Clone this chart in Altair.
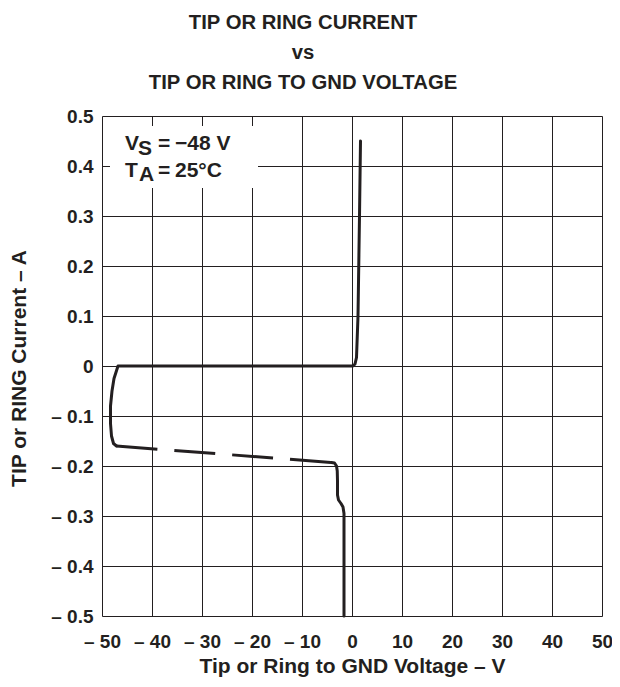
import altair as alt
import pandas as pd

# Curve (voltage in V, current in A)
solid_top_v = [1.7, 1.5, 1.2, 0.9, 0.6, 0.2, -0.8, -10, -25, -40, -46.8, -47.6, -48.0, -48.3, -48.3, -48.1, -47.7, -47.1]
solid_top_i = [0.45, 0.30, 0.10, 0.017, 0.004, 0.0, 0.0, 0.0, 0.0, 0.0, 0.0, -0.025, -0.05, -0.08, -0.115, -0.14, -0.155, -0.160]
dash_v = [-47.1, -4.1]
dash_i = [-0.160, -0.193]
solid_bot_v = [-4.1, -3.5, -3.1, -2.95, -2.9, -2.9, -2.7, -2.2, -1.8, -1.6, -1.6]
solid_bot_i = [-0.193, -0.194, -0.200, -0.21, -0.23, -0.258, -0.268, -0.275, -0.282, -0.295, -0.5]

x_ticks = [-50, -40, -30, -20, -10, 0, 10, 20, 30, 40, 50]
y_ticks = [-0.5, -0.4, -0.3, -0.2, -0.1, 0, 0.1, 0.2, 0.3, 0.4, 0.5]

title_lines = ["TIP OR RING CURRENT", "vs", "TIP OR RING TO GND VOLTAGE"]
x_title = "Tip or Ring to GND Voltage – V"
y_title = "TIP or RING Current – A"

FONT = "Liberation Sans"
INK = "#231f20"

rows = []
k = 0
for v, i in zip(solid_top_v, solid_top_i):
    rows.append({"V": v, "I": i, "seg": "a", "o": k}); k += 1
for v, i in zip(dash_v, dash_i):
    rows.append({"V": v, "I": i, "seg": "d", "o": k}); k += 1
for v, i in zip(solid_bot_v, solid_bot_i):
    rows.append({"V": v, "I": i, "seg": "b", "o": k}); k += 1
df = pd.DataFrame(rows)

xs = alt.Scale(domain=[-50, 50], nice=False, zero=False)
ys = alt.Scale(domain=[-0.5, 0.5], nice=False, zero=False)

x_enc = alt.X("V:Q", scale=xs, axis=alt.Axis(
    values=x_ticks, title=x_title, grid=True, gridColor=INK, gridWidth=1, gridOpacity=1,
    domain=False, ticks=False, tickSize=0, labelFont=FONT, labelFontSize=19,
    labelFontWeight="bold", labelColor=INK, labelPadding=16, labelFlush=False,
    labelExpr="datum.value < 0 ? '– ' + format(-datum.value, 'd') : format(datum.value, 'd')",
    titleFont=FONT, titleFontSize=21, titleFontWeight="bold", titleColor=INK,
    titleY=56, titleBaseline="alphabetic"))
y_enc = alt.Y("I:Q", scale=ys, axis=alt.Axis(
    values=y_ticks, title=y_title, grid=True, gridColor=INK, gridWidth=1, gridOpacity=1,
    domain=False, ticks=False, tickSize=0, labelFont=FONT, labelFontSize=19,
    labelFontWeight="bold", labelColor=INK, labelPadding=9, labelFlush=False,
    labelExpr="datum.value == 0 ? '0' : (datum.value < 0 ? '– ' + format(-datum.value, '.1f') : format(datum.value, '.1f'))",
    titleFont=FONT, titleFontSize=21, titleFontWeight="bold", titleColor=INK,
    titleX=-83, titleY=252, titleAngle=270, titleBaseline="middle", titleAlign="center"))

base = alt.Chart(df)

solid_a = base.transform_filter("datum.seg == 'a'").mark_line(
    color=INK, strokeWidth=3, strokeCap="round", strokeJoin="round").encode(x=x_enc, y=y_enc, order="o:Q")
solid_b = base.transform_filter("datum.seg == 'b'").mark_line(
    color=INK, strokeWidth=3, strokeCap="round", strokeJoin="round").encode(x="V:Q", y="I:Q", order="o:Q")
dashed = base.transform_filter("datum.seg == 'd'").mark_line(
    color=INK, strokeWidth=3, strokeDash=[41, 17]).encode(x="V:Q", y="I:Q", order="o:Q")

box = alt.Chart(pd.DataFrame({"a": [0]})).mark_rect(color="white").encode(
    x=alt.value(8), x2=alt.value(156), y=alt.value(10), y2=alt.value(72))

def txt(s, x, y):
    return alt.Chart(pd.DataFrame({"t": [s]})).mark_text(
        font=FONT, fontSize=21, fontWeight="bold", color=INK, align="left", baseline="alphabetic"
    ).encode(text="t:N", x=alt.value(x), y=alt.value(y))

notes = [txt("V", 23, 34), txt("S", 36, 39), txt("=", 56, 34), txt("−48 V", 73, 34),
         txt("T", 23, 61), txt("A", 37, 65), txt("=", 56, 61), txt("25°C", 73, 61)]

chart = alt.layer(solid_a, box, dashed, solid_b, *notes).properties(
    width=500, height=500,
    title=alt.Title(title_lines, font=FONT, fontSize=20.3, fontWeight="bold", color=INK,
                    lineHeight=30, anchor="middle", dx=-49, offset=13.5),
    autosize=alt.AutoSizeParams(type="none"),
    padding={"left": 94, "top": 108, "right": 10, "bottom": 62},
).configure_view(stroke=INK, strokeWidth=2.5).configure(background="white")

chart.save("out.html", embed_options={"renderer": "svg", "actions": False})
